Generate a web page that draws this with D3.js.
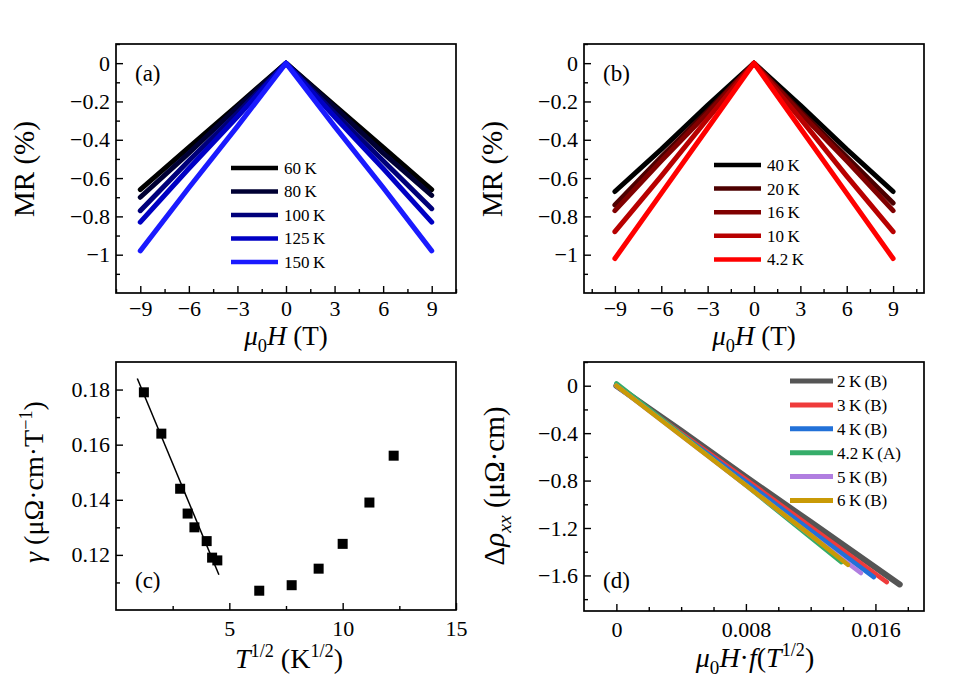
<!DOCTYPE html>
<html><head><meta charset="utf-8">
<script src="https://cdn.jsdelivr.net/npm/d3@7"></script>
<style>
body{margin:0;background:#fff}
text{font-family:"Liberation Serif","Times New Roman",serif;fill:#000}
</style>
</head><body><svg id="chart" width="967" height="688"></svg>
<script>
// ---------- data ----------
const fieldH = [-9, -6, -3, 0, 3, 6, 9];

const aLabels = ["60\u2009K", "80\u2009K", "100\u2009K", "125\u2009K", "150\u2009K"];
const aColors = ["#000000", "#000033", "#00007a", "#0000c4", "#1a1aff"];
const aMR60  = [-0.66, -0.44, -0.22, 0, -0.22, -0.44, -0.66];
const aMR80  = [-0.70, -0.47, -0.23, 0, -0.23, -0.47, -0.69];
const aMR100 = [-0.77, -0.51, -0.26, 0, -0.26, -0.51, -0.76];
const aMR125 = [-0.83, -0.55, -0.28, 0, -0.28, -0.55, -0.83];
const aMR150 = [-0.98, -0.65, -0.33, 0, -0.33, -0.65, -0.98];

const bLabels = ["40\u2009K", "20\u2009K", "16\u2009K", "10\u2009K", "4.2\u2009K"];
const bColors = ["#000000", "#4d0000", "#800000", "#b80000", "#ff0000"];
const bMR40 = [-0.67, -0.45, -0.22, 0, -0.22, -0.45, -0.67];
const bMR20 = [-0.74, -0.49, -0.25, 0, -0.25, -0.49, -0.73];
const bMR16 = [-0.77, -0.51, -0.26, 0, -0.26, -0.51, -0.77];
const bMR10 = [-0.88, -0.59, -0.29, 0, -0.29, -0.59, -0.88];
const bMR42 = [-1.02, -0.68, -0.34, 0, -0.34, -0.68, -1.02];

const cSqrtT = [1.23, 2.0, 2.83, 3.16, 3.46, 4.0, 4.24, 4.47, 6.32, 7.75, 8.94, 10.0, 11.18, 12.25];
const cGamma = [0.179, 0.164, 0.144, 0.135, 0.130, 0.125, 0.119, 0.118, 0.107, 0.109, 0.115, 0.124, 0.139, 0.156];
const cFitX = [0.94, 4.54];
const cFitY = [0.184, 0.1128];

const dLabels = ["2\u2009K\u2009(B)", "3\u2009K\u2009(B)", "4\u2009K\u2009(B)", "4.2\u2009K\u2009(A)", "5\u2009K\u2009(B)", "6\u2009K\u2009(B)"];
const dColors = ["#555555", "#ef3b3b", "#2271d8", "#36ad6a", "#b07ee0", "#c99a06"];
const dX2K  = [0, 0.004, 0.008, 0.012, 0.0175];
const dY2K  = [0, -0.38, -0.77, -1.15, -1.676];
const dX3K  = [0, 0.004, 0.008, 0.012, 0.0167];
const dY3K  = [0, -0.40, -0.79, -1.19, -1.656];
const dX4K  = [0, 0.004, 0.008, 0.012, 0.0159];
const dY4K  = [0, -0.41, -0.81, -1.22, -1.614];
const dX42K = [0, 0.004, 0.008, 0.012, 0.0139];
const dY42K = [0.02, -0.41, -0.84, -1.28, -1.488];
const dX5K  = [0, 0.004, 0.008, 0.012, 0.0151];
const dY5K  = [0, -0.42, -0.84, -1.26, -1.58];
const dX6K  = [0, 0.004, 0.008, 0.012, 0.0143];
const dY6K  = [0, -0.42, -0.84, -1.26, -1.51];

// tick values / labels
const abXTicks = [-9, -6, -3, 0, 3, 6, 9];
const abXLabels = ["\u22129", "\u22126", "\u22123", "0", "3", "6", "9"];
const aXMinor = [-10.5, -7.5, -4.5, -1.5, 1.5, 4.5, 7.5, 10.5];
const bXMinor = [-10.5, -7.5, -4.5, -1.5, 1.5, 4.5, 7.5, 10.5];
const abYTicks = [0, -0.2, -0.4, -0.6, -0.8, -1];
const abYLabels = ["0", "\u22120.2", "\u22120.4", "\u22120.6", "\u22120.8", "\u22121"];
const abYMinor = [0.1, -0.1, -0.3, -0.5, -0.7, -0.9, -1.1];
const cXTicks = [5, 10, 15];
const cXLabels = ["5", "10", "15"];
const cXMinor = [2.5, 7.5, 12.5];
const cYTicks = [0.12, 0.14, 0.16, 0.18];
const cYLabels = ["0.12", "0.14", "0.16", "0.18"];
const cYMinor = [0.11, 0.13, 0.15, 0.17];
const dXTicks = [0, 0.008, 0.016];
const dXLabels = ["0", "0.008", "0.016"];
const dXMinor = [0.002, 0.004, 0.006, 0.01, 0.012, 0.014, 0.018];
const dYTicks = [0, -0.4, -0.8, -1.2, -1.6];
const dYLabels = ["0", "\u22120.4", "\u22120.8", "\u22121.2", "\u22121.6"];
const dYMinor = [0.2, -0.2, -0.6, -1.0, -1.4, -1.8];

// ---------- drawing ----------
const svg = d3.select("#chart");

function panel(cfg) {
  const x = d3.scaleLinear().domain(cfg.xDom).range([cfg.left, cfg.right]);
  const y = d3.scaleLinear().domain(cfg.yDom).range([cfg.bottom, cfg.top]);
  const g = svg.append("g");
  const styleAxis = sel => {
    sel.select(".domain").remove();
    sel.selectAll(".tick line").attr("stroke", "#000").attr("stroke-width", 1.4);
    sel.selectAll("text").attr("font-family", "'Liberation Serif', serif").attr("font-size", 22).attr("fill", "#000");
    sel.attr("font-family", null).attr("font-size", null);
  };
  g.append("g").attr("transform", `translate(0,${cfg.bottom})`)
    .call(d3.axisBottom(x).tickValues(cfg.xTicks).tickFormat((d, i) => cfg.xLabels[i])
      .tickSizeInner(-7).tickSizeOuter(0).tickPadding(cfg.xPad)).call(styleAxis);
  g.append("g").attr("transform", `translate(0,${cfg.bottom})`)
    .call(d3.axisBottom(x).tickValues(cfg.xMinor).tickFormat("")
      .tickSizeInner(-4).tickSizeOuter(0)).call(styleAxis);
  g.append("g").attr("transform", `translate(${cfg.left},0)`)
    .call(d3.axisLeft(y).tickValues(cfg.yTicks).tickFormat((d, i) => cfg.yLabels[i])
      .tickSizeInner(-7).tickSizeOuter(0).tickPadding(6)).call(styleAxis);
  g.append("g").attr("transform", `translate(${cfg.left},0)`)
    .call(d3.axisLeft(y).tickValues(cfg.yMinor).tickFormat("")
      .tickSizeInner(-4).tickSizeOuter(0)).call(styleAxis);
  const plot = g.append("g");
  g.append("rect").attr("x", cfg.left).attr("y", cfg.top)
    .attr("width", cfg.right - cfg.left).attr("height", cfg.bottom - cfg.top)
    .attr("fill", "none").attr("stroke", "#000").attr("stroke-width", 1.7);
  g.append("text").attr("x", cfg.left + 19).attr("y", cfg.top + cfg.labelDy)
    .attr("font-size", 23).text(cfg.tag);
  return {x, y, g, plot};
}

// rich text helper: parts = [{t, it, sub, sup}]
function rich(x, y, size, parts, rotate) {
  const t = svg.append("text").attr("font-size", size).attr("text-anchor", "middle");
  if (rotate) t.attr("transform", `translate(${x},${y}) rotate(-90)`);
  else t.attr("x", x).attr("y", y);
  let shift = 0;
  parts.forEach(p => {
    const s = t.append("tspan").text(p.t);
    let target = 0;
    if (p.sub) { target = size * 0.25; s.attr("font-size", size * 0.68); }
    if (p.sup) { target = -size * 0.38; s.attr("font-size", size * 0.65); }
    if (p.it) s.attr("font-style", "italic");
    s.attr("dy", target - shift);
    shift = target;
  });
  return t;
}

const line = (x, y) => d3.line().x(d => x(d[0])).y(d => y(d[1]));

// ----- panel (a) -----
const A = panel({xDom: [-10.5, 10.5], yDom: [-1.2, 0.1], left: 116, right: 456, top: 44, bottom: 293,
  xTicks: abXTicks, xLabels: abXLabels, xMinor: aXMinor, yTicks: abYTicks, yLabels: abYLabels, yMinor: abYMinor,
  tag: "(a)", labelDy: 37, xPad: 7});
[aMR60, aMR80, aMR100, aMR125, aMR150].forEach((vals, i) => {
  A.plot.append("path").datum(fieldH.map((h, j) => [h, vals[j]]))
    .attr("d", line(A.x, A.y)).attr("fill", "none").attr("stroke", aColors[i])
    .attr("stroke-width", 5).attr("stroke-linecap", "round").attr("stroke-linejoin", "round");
});
aLabels.forEach((lab, i) => {
  const yy = 168 + i * 23.5;
  A.g.append("line").attr("x1", 231).attr("x2", 278).attr("y1", yy).attr("y2", yy)
    .attr("stroke", aColors[i]).attr("stroke-width", 4.5);
  A.g.append("text").attr("x", 284).attr("y", yy).attr("dy", "0.35em").attr("font-size", 17).text(lab);
});

// ----- panel (b) -----
const B = panel({xDom: [-11, 11], yDom: [-1.2, 0.1], left: 584, right: 924, top: 44, bottom: 293,
  xTicks: abXTicks, xLabels: abXLabels, xMinor: bXMinor, yTicks: abYTicks, yLabels: abYLabels, yMinor: abYMinor,
  tag: "(b)", labelDy: 37, xPad: 7});
[bMR40, bMR20, bMR16, bMR10, bMR42].forEach((vals, i) => {
  B.plot.append("path").datum(fieldH.map((h, j) => [h, vals[j]]))
    .attr("d", line(B.x, B.y)).attr("fill", "none").attr("stroke", bColors[i])
    .attr("stroke-width", 5).attr("stroke-linecap", "round").attr("stroke-linejoin", "round");
});
bLabels.forEach((lab, i) => {
  const yy = 165 + i * 23.6;
  B.g.append("line").attr("x1", 714).attr("x2", 761).attr("y1", yy).attr("y2", yy)
    .attr("stroke", bColors[i]).attr("stroke-width", 4.5);
  B.g.append("text").attr("x", 767).attr("y", yy).attr("dy", "0.35em").attr("font-size", 17).text(lab);
});

// ----- panel (c) -----
const C = panel({xDom: [0, 15], yDom: [0.10, 0.19], left: 116, right: 456, top: 362, bottom: 610,
  xTicks: cXTicks, xLabels: cXLabels, xMinor: cXMinor, yTicks: cYTicks, yLabels: cYLabels, yMinor: cYMinor,
  tag: "(c)", labelDy: 226, xPad: 10});
C.plot.append("path").datum(cFitX.map((v, i) => [v, cFitY[i]]))
  .attr("d", line(C.x, C.y)).attr("fill", "none").attr("stroke", "#000").attr("stroke-width", 1.5);
C.plot.selectAll("rect.pt").data(cSqrtT.map((v, i) => [v, cGamma[i]])).enter().append("rect")
  .attr("x", d => C.x(d[0]) - 5).attr("y", d => C.y(d[1]) - 5).attr("width", 10).attr("height", 10)
  .attr("fill", "#000");

// ----- panel (d) -----
const D = panel({xDom: [-0.002, 0.019], yDom: [-1.9, 0.2], left: 584, right: 924, top: 362, bottom: 611,
  xTicks: dXTicks, xLabels: dXLabels, xMinor: dXMinor, yTicks: dYTicks, yLabels: dYLabels, yMinor: dYMinor,
  tag: "(d)", labelDy: 226, xPad: 10});
const dSeries = [[dX2K, dY2K], [dX3K, dY3K], [dX4K, dY4K], [dX42K, dY42K], [dX5K, dY5K], [dX6K, dY6K]];
dSeries.forEach((s, i) => {
  D.plot.append("path").datum(s[0].map((v, j) => [v, s[1][j]]))
    .attr("d", line(D.x, D.y)).attr("fill", "none").attr("stroke", dColors[i])
    .attr("stroke-width", i === 0 ? 6 : 4.5).attr("stroke-linecap", "round");
});
dLabels.forEach((lab, i) => {
  const yy = 381 + i * 23.9;
  D.g.append("line").attr("x1", 790).attr("x2", 833).attr("y1", yy).attr("y2", yy)
    .attr("stroke", dColors[i]).attr("stroke-width", 5);
  D.g.append("text").attr("x", 837).attr("y", yy).attr("dy", "0.35em").attr("font-size", 17).text(lab);
});

// ----- axis titles -----
const muH = [{t: "\u03bc", it: true}, {t: "0", sub: true}, {t: "H", it: true}, {t: " (T)"}];
rich(286, 345, 27, muH);
rich(754, 345, 27, muH);
rich(34, 169, 29, [{t: "MR (%)"}], true);
rich(502, 169, 29, [{t: "MR (%)"}], true);
rich(289, 668, 28, [{t: "T", it: true}, {t: "1/2", sup: true}, {t: " (K"}, {t: "1/2", sup: true}, {t: ")"}]);
rich(755, 667, 28, [{t: "\u03bc", it: true}, {t: "0", sub: true}, {t: "H", it: true}, {t: "\u00b7"},
  {t: "f", it: true}, {t: "("}, {t: "T", it: true}, {t: "1/2", sup: true}, {t: ")"}]);
rich(43, 482, 28, [{t: "\u03b3", it: true}, {t: " (\u03bc\u03a9\u00b7cm\u00b7T"}, {t: "\u22121", sup: true}, {t: ")"}], true);
rich(504, 486, 29, [{t: "\u0394"}, {t: "\u03c1", it: true}, {t: "xx", it: true, sub: true}, {t: "  (\u03bc\u03a9\u00b7cm)"}], true);
</script>
</body></html>
